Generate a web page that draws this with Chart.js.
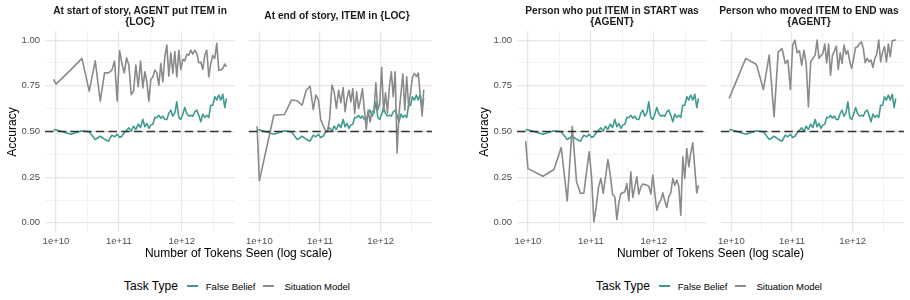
<!DOCTYPE html>
<html>
<head>
<meta charset="utf-8">
<script src="https://cdn.jsdelivr.net/npm/chart.js@4.4.1/dist/chart.umd.min.js"></script>
<style>
  body { margin: 0; background: #fff; width: 910px; height: 300px; position: relative; overflow: hidden;
         font-family: "Liberation Sans", Arial, sans-serif; }
  canvas { position: absolute; top: 0; }
  .strip { position: absolute; top: 3px; height: 25px; width: 200px; display: flex; align-items: center;
           justify-content: center; text-align: center; font-weight: bold; font-size: 10.2px; line-height: 11px; color: #1a1a1a; }
  .xtitle { position: absolute; top: 246px; width: 387px; text-align: center; font-size: 12px; color: #000; }
  .ytitle { position: absolute; top: 125px; width: 100px; text-align: center; font-size: 12px; color: #000;
            transform: rotate(-90deg); transform-origin: center; }
  .legend { position: absolute; top: 279px; display: flex; align-items: center; color: #000; }
  .legend .lt { font-size: 12px; }
  .legend .it { font-size: 9.5px; }
  .legend .sw { display: inline-block; width: 11px; height: 2px; }
</style>
</head>
<body>
<canvas id="p1"></canvas>
<canvas id="p2"></canvas>
<canvas id="p3"></canvas>
<canvas id="p4"></canvas>

<div class="strip" style="left:40px">At start of story, AGENT put ITEM in<br>{LOC}</div>
<div class="strip" style="left:237px">At end of story, ITEM in {LOC}</div>
<div class="strip" style="left:512px">Person who put ITEM in START was<br>{AGENT}</div>
<div class="strip" style="left:709px">Person who moved ITEM to END was<br>{AGENT}</div>

<div class="ytitle" style="left:-38px">Accuracy</div>
<div class="ytitle" style="left:434px">Accuracy</div>
<div class="xtitle" style="left:45px">Number of Tokens Seen (log scale)</div>
<div class="xtitle" style="left:517px">Number of Tokens Seen (log scale)</div>

<div class="legend" style="left:124px">
  <span class="lt">Task Type</span>
  <span class="sw" style="margin-left:9px;background:#3f9b8f"></span>
  <span class="it" style="margin-left:8px">False Belief</span>
  <span class="sw" style="margin-left:8px;background:#8a8a8a"></span>
  <span class="it" style="margin-left:10px">Situation Model</span>
</div>
<div class="legend" style="left:596px">
  <span class="lt">Task Type</span>
  <span class="sw" style="margin-left:9px;background:#3f9b8f"></span>
  <span class="it" style="margin-left:8px">False Belief</span>
  <span class="sw" style="margin-left:8px;background:#8a8a8a"></span>
  <span class="it" style="margin-left:10px">Situation Model</span>
</div>

<script>
// checkpoints (tokens seen)
const tokensSeen = [
  9.18e9, 1.0e10, 1.73e10, 2.59e10, 3.38e10, 4.21e10, 5.06e10, 5.92e10, 6.85e10, 7.74e10,
  8.53e10, 9.41e10, 1.026e11, 1.117e11, 1.216e11, 1.324e11, 1.442e11, 1.570e11, 1.710e11, 1.862e11,
  2.028e11, 2.208e11, 2.404e11, 2.587e11, 2.782e11, 2.992e11, 3.220e11, 3.464e11, 3.726e11, 4.009e11,
  4.313e11, 4.640e11, 4.992e11, 5.371e11, 5.778e11, 6.216e11, 6.687e11, 7.195e11, 7.740e11, 8.327e11,
  8.958e11, 9.637e11, 1.037e12, 1.116e12, 1.200e12, 1.291e12, 1.389e12, 1.495e12, 1.608e12, 1.730e12,
  1.861e12, 2.003e12, 2.154e12, 2.318e12, 2.494e12, 2.683e12, 2.886e12, 3.105e12, 3.341e12, 3.594e12,
  3.867e12, 4.160e12, 4.476e12, 4.815e12, 5.118e12
];

// False Belief (same in every panel)
const falseBelief = [
  0.511, 0.509, 0.485, 0.504, 0.498, 0.456, 0.474, 0.458, 0.447, 0.480,
  0.471, 0.485, 0.467, 0.474, 0.493, 0.507, 0.520, 0.502, 0.529, 0.511,
  0.540, 0.522, 0.566, 0.526, 0.544, 0.518, 0.535, 0.540, 0.577, 0.577,
  0.588, 0.573, 0.584, 0.566, 0.566, 0.599, 0.617, 0.584, 0.602, 0.662,
  0.577, 0.566, 0.595, 0.631, 0.599, 0.584, 0.589, 0.584, 0.608, 0.617,
  0.589, 0.553, 0.595, 0.577, 0.589, 0.577, 0.644, 0.644, 0.690, 0.672,
  0.699, 0.672, 0.704, 0.631, 0.681
];

// Situation Model, one per panel
const sitStartAgent = [
  0.785, 0.759, 0.839, 0.900, 0.721, 0.887, 0.666, 0.821, 0.821, 0.836,
  0.885, 0.666, 0.942, 0.872, 0.821, 0.903, 0.863, 0.701, 0.721, 0.863,
  0.745, 0.885, 0.739, 0.827, 0.772, 0.666, 0.785, 0.799, 0.836, 0.821,
  0.754, 0.872, 0.772, 0.909, 0.973, 0.803, 0.931, 0.818, 0.938, 0.799,
  0.945, 0.839, 0.894, 0.887, 0.922, 0.918, 0.945, 0.923, 0.945, 0.927,
  0.876, 0.880, 0.839, 0.918, 0.945, 0.799, 0.872, 0.916, 0.900, 0.982,
  0.836, 0.836, 0.845, 0.869, 0.854
];
const sitEndLoc = [
  0.529, 0.230, 0.589, 0.593, 0.672, 0.668, 0.644, 0.726, 0.748, 0.620,
  0.699, 0.672, 0.566, 0.535, 0.507, 0.498, 0.571, 0.754, 0.717, 0.626,
  0.726, 0.657, 0.741, 0.608, 0.681, 0.726, 0.662, 0.735, 0.599, 0.717,
  0.626, 0.672, 0.735, 0.620, 0.511, 0.617, 0.553, 0.608, 0.617, 0.766,
  0.617, 0.653, 0.850, 0.608, 0.712, 0.602, 0.745, 0.827, 0.690, 0.827,
  0.383, 0.599, 0.708, 0.814, 0.617, 0.799, 0.635, 0.712, 0.799, 0.818,
  0.800, 0.820, 0.700, 0.585, 0.730
];
const sitStartPerson = [
  0.447, 0.297, 0.255, 0.292, 0.412, 0.120, 0.529, 0.224, 0.161, 0.164,
  0.280, 0.389, 0.250, 0.005, 0.088, 0.197, 0.243, 0.161, 0.250, 0.347,
  0.266, 0.157, 0.142, 0.018, 0.109, 0.161, 0.164, 0.170, 0.215, 0.120,
  0.279, 0.139, 0.197, 0.252, 0.157, 0.197, 0.212, 0.210, 0.206, 0.201,
  0.157, 0.261, 0.161, 0.069, 0.106, 0.124, 0.164, 0.120, 0.084, 0.142,
  0.164, 0.243, 0.206, 0.234, 0.200, 0.042, 0.361, 0.243, 0.407, 0.307,
  0.383, 0.438, 0.300, 0.164, 0.206
];
const sitEndPerson = [
  0.681, 0.710, 0.900, 0.867, 0.730, 0.918, 0.580, 0.936, 0.954, 0.872,
  0.891, 0.730, 0.973, 1.000, 0.931, 0.942, 0.863, 0.945, 0.872, 0.635,
  0.881, 0.900, 0.918, 1.000, 0.900, 0.915, 0.927, 0.978, 0.876, 0.978,
  0.808, 0.918, 0.940, 0.967, 0.839, 0.931, 0.872, 0.973, 0.923, 0.942,
  0.880, 0.845, 0.900, 0.960, 0.964, 0.980, 0.991, 0.954, 0.876, 0.900,
  0.881, 0.891, 0.850, 0.900, 0.923, 1.000, 0.881, 0.936, 0.964, 0.881,
  0.978, 0.909, 0.996, 1.000, 1.000
];

const xMajor = [1e10, 1e11, 1e12];
const xMinor = [3.1623e10, 3.1623e11, 3.1623e12];
const yMajor = [0, 0.25, 0.5, 0.75, 1];
const yMinor = [0.125, 0.375, 0.625, 0.875];
const chance = 0.5;

const TEAL = '#3f9b8f';
const GRAY = '#8a8a8a';

const chanceLine = {
  id: 'chanceLine',
  afterDatasetsDraw(chart) {
    const { ctx, chartArea: a, scales: { y } } = chart;
    const py = y.getPixelForValue(chance);
    ctx.save();
    ctx.strokeStyle = '#333333';
    ctx.lineWidth = 1.5;
    ctx.setLineDash([8.5, 4.2]);
    ctx.beginPath();
    ctx.moveTo(a.left, py);
    ctx.lineTo(a.right, py);
    ctx.stroke();
    ctx.restore();
  }
};

const gridStyle = isMajor => ({
  drawTicks: false,
  color: c => isMajor(c.tick.value) ? '#e6e6e6' : '#f0f0f0',
  lineWidth: c => isMajor(c.tick.value) ? 1.2 : 0.8
});

function makePanel(id, left, showY, sit) {
  const cv = document.getElementById(id);
  const yw = showY ? 45 : 0;
  cv.width = 190 + yw;
  cv.height = 250;
  cv.style.left = (left - yw) + 'px';
  const lineOpts = { borderWidth: 1.6, pointRadius: 0, tension: 0, borderJoinStyle: 'round', fill: false };
  new Chart(cv, {
    type: 'line',
    data: {
      datasets: [
        { label: 'Situation Model', data: tokensSeen.map((t, i) => ({ x: t, y: sit[i] })), borderColor: GRAY, ...lineOpts },
        { label: 'False Belief', data: tokensSeen.map((t, i) => ({ x: t, y: falseBelief[i] })), borderColor: TEAL, ...lineOpts }
      ]
    },
    options: {
      responsive: false,
      animation: false,
      devicePixelRatio: 1,
      layout: { padding: { top: 31, left: 0, right: 0, bottom: 0 } },
      plugins: { legend: { display: false }, tooltip: { enabled: false } },
      scales: {
        x: {
          type: 'logarithmic',
          min: 6.7e9, max: 7.0e12,
          afterBuildTicks: s => { s.ticks = [...xMajor, ...xMinor].sort((a, b) => a - b).map(v => ({ value: v })); },
          afterFit: s => { s.height = 18; },
          ticks: {
            autoSkip: false, maxRotation: 0, padding: 4, color: '#4d4d4d',
            font: { family: 'Liberation Sans', size: 9.5 },
            callback: v => xMajor.includes(v) ? '1e+' + Math.round(Math.log10(v)) : ''
          },
          grid: gridStyle(v => xMajor.includes(v)),
          border: { display: false }
        },
        y: {
          min: -0.05, max: 1.05,
          afterBuildTicks: s => { s.ticks = [...yMajor, ...yMinor].sort((a, b) => a - b).map(v => ({ value: v })); },
          afterFit: s => { s.width = yw; },
          ticks: {
            display: showY, autoSkip: false, padding: 5, color: '#4d4d4d',
            font: { family: 'Liberation Sans', size: 9.5 },
            callback: v => yMajor.includes(v) ? v.toFixed(2) : ''
          },
          grid: gridStyle(v => yMajor.includes(v)),
          border: { display: false }
        }
      }
    },
    plugins: [chanceLine]
  });
}

makePanel('p1', 45, true, sitStartAgent);
makePanel('p2', 242, false, sitEndLoc);
makePanel('p3', 517, true, sitStartPerson);
makePanel('p4', 714, false, sitEndPerson);
</script>
</body>
</html>
